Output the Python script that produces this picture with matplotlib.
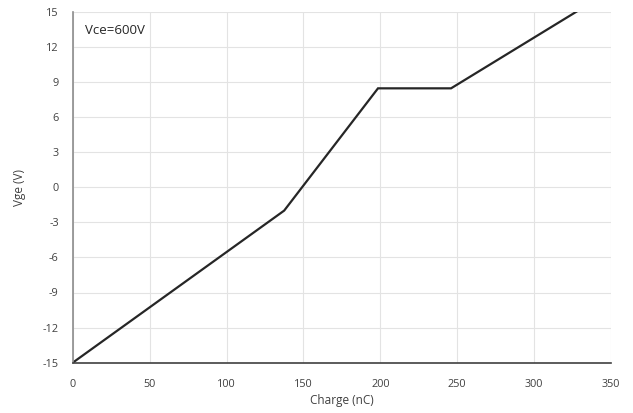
import matplotlib
matplotlib.use('Agg')
from matplotlib import pyplot as plt

# gate charge curve
charge = [0, 137.5, 198.5, 246, 327.5]
vge = [-15, -2.0, 8.45, 8.45, 15]

xticks = [0, 50, 100, 150, 200, 250, 300, 350]
yticks = [-15, -12, -9, -6, -3, 0, 3, 6, 9, 12, 15]

plt.rcParams['font.family'] = ['Open Sans', 'DejaVu Sans']
plt.rcParams['font.size'] = 7.8
plt.rcParams['axes.unicode_minus'] = False

fig = plt.figure(figsize=(6.33, 4.13), dpi=100)
ax = fig.add_axes([72.7 / 633, 1 - 362.7 / 413, (611 - 72.7) / 633, (362.7 - 11.7) / 413])

ax.plot(charge, vge, color='#262626', lw=1.6, solid_joinstyle='miter')

ax.set_xlim(0, 350)
ax.set_ylim(-15, 15)
ax.set_xticks(xticks)
ax.set_yticks(yticks)
ax.grid(True, color='#e3e3e3', lw=0.8)
ax.set_axisbelow(True)
ax.tick_params(axis='x', length=0, pad=12, colors='#404040')
ax.tick_params(axis='y', length=0, pad=10, colors='#404040')

for s in ['top', 'right']:
    ax.spines[s].set_visible(False)
ax.spines['left'].set_color('#8c8c8c')
ax.spines['left'].set_linewidth(1.2)
ax.spines['bottom'].set_color('#404040')
ax.spines['bottom'].set_linewidth(1.2)

ax.set_xlabel('Charge (nC)', color='#404040', fontsize=8.5, labelpad=2.5)
ax.set_ylabel('Vge (V)', color='#404040', fontsize=8.5, labelpad=12)

ax.text(0.023, 0.965, 'Vce=600V', transform=ax.transAxes, va='top', ha='left',
        fontsize=9.5, color='#262626')

fig.savefig('out.png', dpi=100)
